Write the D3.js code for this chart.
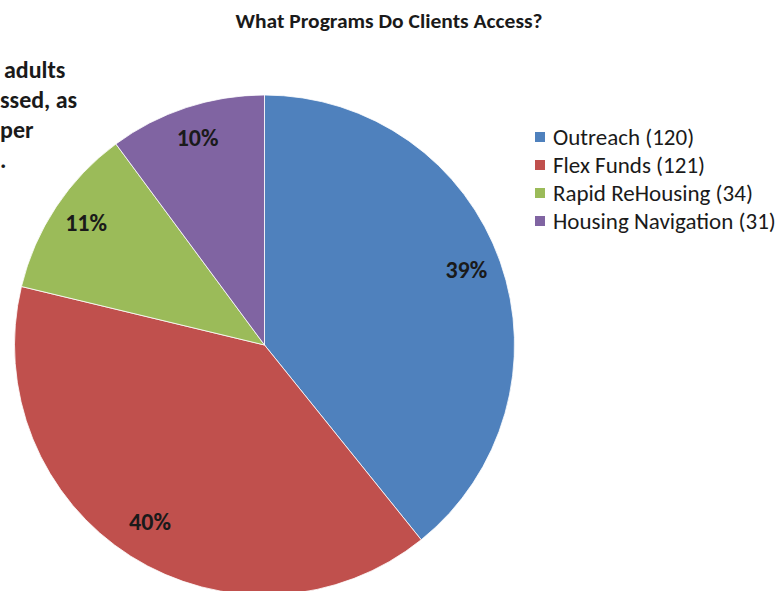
<!DOCTYPE html>
<html><head><meta charset="utf-8">
<script src="https://cdn.jsdelivr.net/npm/d3@7"></script>
<style>body{margin:0;background:#fff}svg{display:block}</style>
</head><body>
<svg id="c" width="776" height="591"></svg>
<script>
const categories = ["Outreach", "Flex Funds", "Rapid ReHousing", "Housing Navigation"];
const values = [120, 121, 34, 31];
const colors = ["#4F81BD", "#C0504D", "#9BBB59", "#8064A2"];
const sideText = ["adults", "ssed, as", "per", "."];

const svg = d3.select("#c");
const font = "Carlito, Calibri, Lato, sans-serif";
const cx = 264.5, cy = 345, r = 250;
const total = d3.sum(values);

svg.append("text").attr("x", 389).attr("y", 21).attr("text-anchor", "middle").attr("dy", "0.35em")
  .attr("font-family", font).attr("font-weight", "bold").attr("font-size", 20)
  .attr("fill", "#1a1a1a").attr("textLength", 307).attr("lengthAdjust", "spacingAndGlyphs")
  .text("What Programs Do Clients Access?");

const pie = d3.pie().sort(null).value(d => d)(values);
const arc = d3.arc().innerRadius(0).outerRadius(r);
const labelArc = d3.arc().innerRadius(214).outerRadius(214);
const g = svg.append("g").attr("transform", `translate(${cx},${cy})`);
g.selectAll("path").data(pie).join("path")
  .attr("d", arc).attr("fill", (d, i) => colors[i])
  .attr("stroke", "#fff").attr("stroke-width", 0.8);
g.selectAll("text").data(pie).join("text")
  .attr("transform", d => { const c = labelArc.centroid(d); return `translate(${c[0]},${c[1] - 4})`; })
  .attr("text-anchor", "middle").attr("dy", "0.35em")
  .attr("font-family", font).attr("font-weight", "bold").attr("font-size", 24)
  .attr("fill", "#1a1a1a")
  .text(d => Math.round(d.data / total * 100) + "%");

const leg = svg.append("g");
categories.forEach((c, i) => {
  const y = 137 + i * 28;
  leg.append("rect").attr("x", 535).attr("y", y - 5).attr("width", 10).attr("height", 10).attr("fill", colors[i]);
  leg.append("text").attr("x", 553).attr("y", y).attr("dy", "0.35em")
    .attr("font-family", font).attr("font-size", 23).attr("fill", "#1a1a1a")
    .text(`${c} (${values[i]})`);
});

const sx = [4, 0, 0, 0];
sideText.forEach((t, i) => {
  svg.append("text").attr("x", sx[i]).attr("y", 70 + i * 30).attr("dy", "0.35em")
    .attr("font-family", font).attr("font-weight", "bold").attr("font-size", 24)
    .attr("fill", "#1a1a1a").text(t);
});
</script>
</body></html>
